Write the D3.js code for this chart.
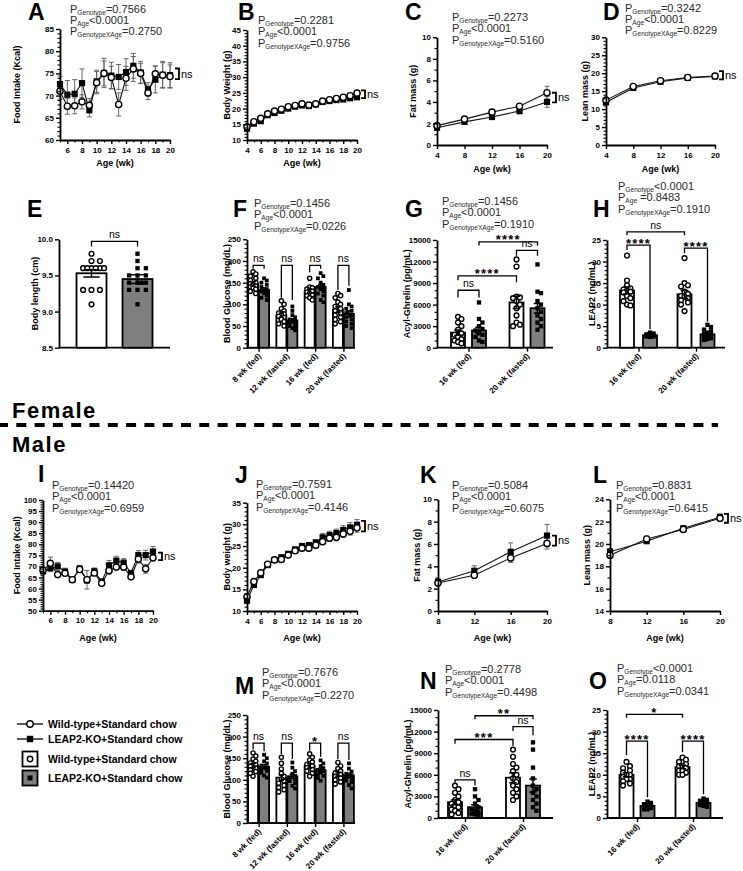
<!DOCTYPE html>
<html><head><meta charset="utf-8">
<script src="https://cdn.jsdelivr.net/npm/d3@7"></script>
<style>
body{margin:0;background:#fff;}
svg{display:block;}
</style></head><body>
<script>
// ================= DATA =================
// Female food intake (A)
const weeksFood = [5,6,7,8,9,10,11,12,13,14,15,16,17,18,19,20];
const fFoodWT    = [71.0,67.6,67.7,68.6,67.8,72.9,75.0,74.1,68.0,73.9,76.0,75.0,70.6,74.9,74.6,74.3];
const fFoodWTsem = [1.8,1.8,1.8,1.6,1.5,2.5,2.8,2.5,2.6,2.7,2.8,2.2,1.5,1.8,2.8,2.6];
const fFoodKO    = [72.6,70.2,70.4,72.8,66.7,73.2,75.1,74.5,74.2,75.3,76.7,75.2,71.4,73.6,74.7,74.6];
const fFoodKOsem = [1.8,3.2,3.2,3.2,1.5,2.5,3.3,3.0,2.8,3.0,2.8,2.5,1.5,3.0,3.0,2.8];
// Female body weight (B)
const weeksBW = [4,5,6,7,8,9,10,11,12,13,14,15,16,17,18,19,20];
const fBwWT    = [14.2,15.8,16.9,18.3,19.2,19.8,20.6,21.0,21.5,21.1,21.5,22.4,22.8,23.2,23.6,24.1,24.9];
const fBwWTsem = [0.5,0.5,0.5,0.5,0.5,0.5,0.5,0.5,0.5,0.5,0.5,0.5,0.5,0.5,0.5,0.6,0.6];
const fBwKO    = [13.6,15.2,16.0,17.9,18.6,19.3,20.0,20.6,21.0,20.8,21.3,22.1,22.4,22.7,22.9,23.3,23.6];
const fBwKOsem = [0.5,0.5,0.5,0.5,0.5,0.5,0.5,0.5,0.5,0.5,0.5,0.5,0.5,0.5,0.5,0.6,0.6];
// Female body composition (C, D)
const weeksComp = [4,8,12,16,20];
const fFatWT = [1.8,2.4,3.05,3.6,4.85],   fFatWTsem = [0.15,0.15,0.2,0.25,0.6];
const fFatKO = [1.6,2.15,2.6,3.15,4.0],   fFatKOsem = [0.15,0.15,0.15,0.25,0.5];
const fLeanWT = [12.5,16.3,17.9,18.8,19.2], fLeanWTsem = [0.4,0.3,0.3,0.3,0.3];
const fLeanKO = [11.9,15.9,17.6,18.7,19.1], fLeanKOsem = [0.4,0.3,0.3,0.3,0.3];
// Male food intake (I)
const mFoodWT    = [68.3,71.4,66.3,66.9,64.0,68.6,64.0,67.0,62.4,68.1,69.7,69.7,65.3,73.3,68.9,73.9];
const mFoodWTsem = [1.2,2.8,1.2,1.2,0.8,1.2,4.2,1.2,1.0,1.5,1.2,1.5,1.0,1.8,2.0,1.5];
const mFoodKO    = [67.8,69.2,70.0,67.7,64.0,69.0,63.8,67.8,63.2,70.5,72.6,71.7,67.0,75.1,75.1,76.7];
const mFoodKOsem = [1.2,1.5,1.8,1.5,0.8,1.5,1.5,1.5,1.0,2.2,2.0,1.8,1.2,2.0,2.2,2.3];
// Male body weight (J)
const mBwWT    = [13.3,16.8,18.8,20.8,21.8,21.9,22.9,23.9,24.5,24.5,25.2,26.0,26.8,27.0,27.8,28.4,29.2];
const mBwWTsem = [0.6,0.5,0.5,0.5,0.5,0.5,0.5,0.5,0.6,0.6,0.6,0.7,0.7,0.8,0.8,0.9,1.0];
const mBwKO    = [12.4,16.0,18.3,20.6,21.8,22.4,23.2,24.2,25.0,25.2,25.8,27.0,27.5,28.0,28.7,29.3,29.9];
const mBwKOsem = [0.7,0.5,0.5,0.5,0.5,0.5,0.5,0.6,0.6,0.6,0.7,0.9,0.9,0.9,1.0,1.1,1.2];
// Male body composition (K, L)
const weeksCompM = [8,12,16,20];
const mFatWT = [2.5,3.2,4.75,6.05], mFatWTsem = [0.2,0.25,0.4,0.5];
const mFatKO = [2.6,3.6,5.3,6.75],  mFatKOsem = [0.3,0.45,0.8,1.0];
const mLeanWT = [19.0,20.45,21.3,22.3], mLeanWTsem = [0.3,0.25,0.25,0.3];
const mLeanKO = [19.3,20.25,21.4,22.4], mLeanKOsem = [0.3,0.2,0.25,0.3];

// Body length (E)
const bodyLenGroups = ["len"];
const fLenWTmean = [9.53], fLenWTsem = [0.05];
const fLenKOmean = [9.45], fLenKOsem = [0.06];
const fLenWTpts = [[9.8,9.7,9.7,9.6,9.6,9.6,9.6,9.6,9.6,9.3,9.3,9.3,9.1]];
const fLenKOpts = [[9.8,9.7,9.6,9.6,9.5,9.5,9.5,9.4,9.4,9.4,9.4,9.3,9.3,9.3,9.1]];

// Blood glucose (F, M)
const glucoseGroups = ["8 wk (fed)","12 wk (fasted)","16 wk (fed)","20 wk (fasted)"];
const fGluWTmean = [147,75,130,88], fGluWTsem = [5,5,5,7];
const fGluKOmean = [133,63,140,78], fGluKOsem = [5,4,6,7];
const fGluWTpts = [
  [175,170,165,160,155,150,148,145,142,140,138,135,130,125],
  [108,100,90,85,80,78,75,72,70,65,60,55,50],
  [160,140,138,135,132,130,128,125,122,120,115,110],
  [125,120,115,105,100,95,90,85,80,75,70,65,60,55]];
const fGluKOpts = [
  [160,155,150,145,140,135,130,128,125,120,115,110],
  [95,85,75,70,65,62,60,58,55,50,48,45,40],
  [172,165,160,150,145,140,138,135,130,125,120,110,105],
  [133,100,95,90,85,80,75,70,65,60,55,50,45]];
const mGluWTmean = [133,105,132,113], mGluWTsem = [5,6,5,5];
const mGluKOmean = [130,108,122,110], mGluKOsem = [5,5,4,5];
const mGluWTpts = [
  [162,155,148,143,139,135,131,127,123,119,115,108],
  [152,138,125,115,108,102,97,92,87,82,77,72],
  [160,152,146,141,136,132,128,124,120,115,108],
  [140,132,126,120,116,112,108,104,100,95,90]];
const mGluKOpts = [
  [158,150,143,138,133,129,125,121,116,110,105],
  [140,128,120,114,109,105,101,97,92,86,80],
  [145,138,132,127,123,120,117,113,109,104,98],
  [138,126,119,114,110,106,102,98,94,88,80]];

// Acyl-ghrelin (G, N) and LEAP2 (H, O)
const hormoneGroups = ["16 wk (fed)","20 wk (fasted)"];
const fGhrWTmean = [2100,6300], fGhrWTsem = [350,850];
const fGhrKOmean = [2400,5500], fGhrKOsem = [450,650];
const fGhrWTpts = [[4300,4000,3500,3000,2500,2000,1800,1500,1200,1000,800,600],
                   [12300,11300,7100,7000,6900,6500,6000,5500,4500,3500,3200,3000]];
const fGhrKOpts = [[6300,4000,3500,3000,2600,2400,2000,1800,1500,1000,800],
                   [11600,7800,7600,6500,6000,5500,5000,4500,4000,3500,3000,2500]];
const fLeapWTmean = [13.3,12.4], fLeapWTsem = [0.8,0.9];
const fLeapKOmean = [2.9,3.1],   fLeapKOsem = [0.15,0.35];
const fLeapWTpts = [[21.4,15.6,14.5,13.8,13.5,13.2,13.0,12.8,12.0,11.5,10.8,10.0,9.8],
                    [20.8,15.0,14.5,14.2,13.0,12.5,12.0,11.8,11.5,11.0,10.5,10.0,8.5]];
const fLeapKOpts = [[3.5,3.3,3.1,3.0,2.9,2.8,2.7,2.6,2.5,2.6,2.9,3.0],
                    [5.3,4.8,4.2,3.8,3.5,3.2,3.0,2.8,2.5,2.2,2.0,1.8]];
const mGhrWTmean = [2200,5600], mGhrWTsem = [350,700];
const mGhrKOmean = [1500,4500], mGhrKOsem = [350,900];
const mGhrWTpts = [[4500,4000,3500,3000,2500,2200,2000,1700,1500,1200,1000,700,500],
                   [9500,8500,7500,7000,6500,6000,5500,5000,4500,4000,3500,3000,2500]];
const mGhrKOpts = [[4000,3000,2500,2000,1500,1200,1000,800,600,500,400],
                   [10500,9500,7000,5500,4500,4000,3500,3000,2500,2000,1500,1000]];
const mLeapWTmean = [10.0,11.8], mLeapWTsem = [0.45,0.4];
const mLeapKOmean = [2.8,3.5],   mLeapKOsem = [0.18,0.18];
const mLeapWTpts = [[13,12,11.5,11,10.5,10,10,9.5,9,9,8.5,8,7.5],
                    [14,13.5,13,12.5,12,12,11.5,11,11,10.5,10,10]];
const mLeapKOpts = [[3.8,3.5,3.2,3.0,2.8,2.6,2.5,2.3,2.0,2.0],
                    [4.5,4.2,4.0,3.8,3.6,3.5,3.3,3.2,3.0,2.8,2.6]];

// Statistics text
const pStats = {
  A:[["Genotype","=0.7566"],["Age","<0.0001"],["GenotypeXAge","=0.2750"]],
  B:[["Genotype","=0.2281"],["Age","<0.0001"],["GenotypeXAge","=0.9756"]],
  C:[["Genotype","=0.2273"],["Age","<0.0001"],["GenotypeXAge","=0.5160"]],
  D:[["Genotype","=0.3242"],["Age","<0.0001"],["GenotypeXAge","=0.8229"]],
  F:[["Genotype","=0.1456"],["Age","<0.0001"],["GenotypeXAge","=0.0226"]],
  G:[["Genotype","=0.1456"],["Age","<0.0001"],["GenotypeXAge","=0.1910"]],
  H:[["Genotype","<0.0001"],["Age"," =0.8483"],["GenotypeXAge","=0.1910"]],
  I:[["Genotype","=0.14420"],["Age","<0.0001"],["GenotypeXAge","=0.6959"]],
  J:[["Genotype","=0.7591"],["Age","<0.0001"],["GenotypeXAge","=0.4146"]],
  K:[["Genotype","=0.5084"],["Age","<0.0001"],["GenotypeXAge","=0.6075"]],
  L:[["Genotype","=0.8831"],["Age","<0.0001"],["GenotypeXAge","=0.6415"]],
  M:[["Genotype","=0.7676"],["Age","<0.0001"],["GenotypeXAge","=0.2270"]],
  N:[["Genotype","=0.2778"],["Age","<0.0001"],["GenotypeXAge","=0.4498"]],
  O:[["Genotype","<0.0001"],["Age","=0.0118"],["GenotypeXAge","=0.0341"]]
};
// Significance brackets: [fromGroup, fromSeries, toGroup, toSeries, level, leg1, leg2, label]
const sigE = [[0,0,0,1,9.97,9.9,9.9,"ns"]];
const sigF = [[0,0,0,1,190,182,182,"ns"],[1,0,1,1,190,115,110,"ns"],[2,0,2,1,190,174,182,"ns"],[3,0,3,1,190,133,143,"ns"]];
const sigG = [[0,0,0,1,8000,7000,7000,"ns"],[0,0,1,0,10000,9400,9100,"****"],[0,1,1,1,14750,14250,14250,"****"],[1,0,1,1,13550,12800,12800,"ns"]];
const sigH = [[0,0,1,0,26.9,26.1,26.1,"ns"],[0,0,0,1,23.8,22.7,4.3,"****"],[1,0,1,1,23.1,21.9,6.0,"****"]];
const sigM = [[0,0,0,1,185,170,166,"ns"],[1,0,1,1,185,160,148,"ns"],[2,0,2,1,185,168,153,"*"],[3,0,3,1,185,148,146,"ns"]];
const sigN = [[0,0,0,1,5300,4900,4500,"ns"],[0,0,1,0,10900,10300,10000,"***"],[0,1,1,1,14200,13700,13700,"**"],[1,0,1,1,12700,12100,11500,"ns"]];
const sigO = [[0,0,1,0,24.0,23.2,23.2,"*"],[0,0,0,1,17.8,14.5,4.8,"****"],[1,0,1,1,17.8,15.2,5.5,"****"]];
const legendLabels = ["Wild-type+Standard chow","LEAP2-KO+Standard chow","Wild-type+Standard chow","LEAP2-KO+Standard chow"];

// ================= DRAWING =================
const FONT = "'Liberation Sans', Arial, Helvetica, sans-serif";
const svg = d3.select("body").append("svg").attr("width",743).attr("height",871)
  .attr("font-family",FONT);

function styleAxis(a){
  a.attr("font-family",FONT).attr("font-size",8).attr("font-weight","bold");
  a.select(".domain").attr("stroke","#000").attr("stroke-width",1.8);
  a.selectAll(".tick line").attr("stroke","#000").attr("stroke-width",1.4);
  a.selectAll(".tick text").attr("fill","#000");
}
function yAxis(g, y, xpos, major, minor, fmt){
  if(minor && minor.length){
    const m = g.append("g").attr("transform",`translate(${xpos},0)`)
      .call(d3.axisLeft(y).tickValues(minor).tickSize(2.5).tickSizeOuter(0).tickFormat(""));
    m.select(".domain").remove();
    m.selectAll(".tick line").attr("stroke","#000").attr("stroke-width",1.1);
  }
  const a = g.append("g").attr("transform",`translate(${xpos},0)`)
    .call(d3.axisLeft(y).tickValues(major).tickSize(4).tickSizeOuter(0).tickPadding(2).tickFormat(fmt || d3.format("d")));
  styleAxis(a);
}
function xAxisNum(g, x, ypos, major, minor){
  if(minor && minor.length){
    const m = g.append("g").attr("transform",`translate(0,${ypos})`)
      .call(d3.axisBottom(x).tickValues(minor).tickSize(2.5).tickSizeOuter(0).tickFormat(""));
    m.select(".domain").remove();
    m.selectAll(".tick line").attr("stroke","#000").attr("stroke-width",1.1);
  }
  const a = g.append("g").attr("transform",`translate(0,${ypos})`)
    .call(d3.axisBottom(x).tickValues(major).tickSize(4).tickSizeOuter(0).tickPadding(3).tickFormat(d3.format("d")));
  styleAxis(a);
}
function yTitle(g, text, x, yc){
  g.append("text").attr("transform",`translate(${x},${yc}) rotate(-90)`)
    .attr("text-anchor","middle").attr("dy","0.35em").attr("font-size",9).attr("font-weight","bold").text(text);
}
function xTitle(g, text, xc, y){
  g.append("text").attr("x",xc).attr("y",y).attr("text-anchor","middle")
    .attr("font-size",9).attr("font-weight","bold").text(text);
}
function letter(t, x, y){
  svg.append("text").attr("x",x).attr("y",y).attr("font-size",23).attr("font-weight","bold").text(t);
}
function pText(key, x, y){
  pStats[key].forEach((ln,i)=>{
    const t = svg.append("text").attr("x",x).attr("y",y+i*11.4).attr("font-size",11).attr("fill","#2a2a2a");
    t.append("tspan").text("P");
    t.append("tspan").attr("font-size",6.6).attr("dy",2).text(ln[0]);
    t.append("tspan").attr("dy",-2).text(ln[1]);
  });
}
function marker(g, type, cx, cy, s){
  if(type==="wt") g.append("circle").attr("cx",cx).attr("cy",cy).attr("r",s)
      .attr("fill","#fff").attr("stroke","#000").attr("stroke-width",1.4);
  else g.append("rect").attr("x",cx-s).attr("y",cy-s).attr("width",2*s).attr("height",2*s).attr("fill","#000");
}

// ---------- line chart ----------
function lineChart(c){
  const g = svg.append("g");
  const x = d3.scaleLinear().domain(c.xDomain).range([c.left,c.right]);
  const y = d3.scaleLinear().domain(c.yDomain).range([c.bottom,c.top]);
  const series = [{v:c.ko,e:c.koSem,t:"ko"},{v:c.wt,e:c.wtSem,t:"wt"}];
  series.forEach(s=>{
    g.append("path").datum(c.weeks.map((w,i)=>[w,s.v[i]]))
      .attr("d",d3.line().x(d=>x(d[0])).y(d=>y(d[1])))
      .attr("fill","none").attr("stroke","#111").attr("stroke-width",1.1);
  });
  series.forEach(s=>{
    c.weeks.forEach((w,i)=>{
      const xx = x(w), y1 = y(s.v[i]+s.e[i]), y2 = y(s.v[i]-s.e[i]);
      g.append("path").attr("d",`M${xx},${y1}V${y2}M${xx-2.5},${y1}H${xx+2.5}M${xx-2.5},${y2}H${xx+2.5}`)
        .attr("stroke","#666").attr("stroke-width",1).attr("fill","none");
    });
  });
  series.forEach(s=>{
    c.weeks.forEach((w,i)=> marker(g, s.t, x(w), y(s.v[i]), 3.1));
  });
  yAxis(g, y, c.left, c.yMajor, c.yMinor);
  xAxisNum(g, x, c.bottom, c.xMajor, c.xMinor);
  yTitle(g, c.yTitle, c.yTitleX, (c.top+c.bottom)/2);
  xTitle(g, "Age (wk)", (c.left+c.right)/2, c.xTitleY);
  // ns bracket
  const bx = x(c.xDomain[1]) + c.bOff, yt = y(c.ns[0]), yb = y(c.ns[1]);
  g.append("path").attr("d",`M${bx-4},${yt}H${bx}V${yb}H${bx-4}`)
    .attr("fill","none").attr("stroke","#000").attr("stroke-width",1.8);
  g.append("text").attr("x",bx+2).attr("y",(yt+yb)/2).attr("dy","0.35em")
    .attr("font-size",11).text("ns");
}

// ---------- bar chart ----------
function swarm(vals, yS, cx, minD, maxHalf){
  const placed = [];
  vals.slice().sort((a,b)=>b-a).forEach(v=>{
    const py = yS(v);
    let best = null, bestScore = -1;
    for(let k=0;k<14;k++){
      const off = (k===0?0:(k%2?1:-1)*Math.ceil(k/2)*minD*0.75);
      if(Math.abs(off) > maxHalf) continue;
      let md = 1e9;
      placed.forEach(p=>{ md = Math.min(md, Math.hypot(p.x-(cx+off), p.y-py)); });
      if(md >= minD){ best = off; bestScore = 1e9; break; }
      if(md > bestScore){ bestScore = md; best = off; }
    }
    placed.push({x:cx+best, y:py, v});
  });
  return placed;
}
function barChart(c){
  const g = svg.append("g");
  const y = d3.scaleLinear().domain(c.yDomain).range([c.bottom,c.top]);
  const xc = d3.scalePoint().domain(c.groups).range(c.xRange).padding(c.pad);
  const colX = (gi,s) => xc(c.groups[gi]) + (s===0 ? -c.off : c.off);
  const sets = [{m:c.wtMean,e:c.wtSem,p:c.wtPts,t:"wt"},{m:c.koMean,e:c.koSem,p:c.koPts,t:"ko"}];
  g.append("line").attr("x1",c.left).attr("x2",c.right).attr("y1",c.bottom).attr("y2",c.bottom)
    .attr("stroke","#000").attr("stroke-width",1.8);
  if(c.catLabels){
    const a = g.append("g").attr("transform",`translate(0,${c.bottom})`)
      .call(d3.axisBottom(xc).tickSize(4).tickSizeOuter(0).tickFormat(""));
    a.select(".domain").remove();
    a.selectAll(".tick line").attr("stroke","#000").attr("stroke-width",1.4);
    c.groups.forEach(gn=>{
      g.append("text").attr("transform",`translate(${xc(gn)+3},${c.bottom+9}) rotate(-45)`)
        .attr("text-anchor","end").attr("font-size",8).attr("font-weight","bold").text(gn);
    });
  }
  sets.forEach((s,si)=>{
    c.groups.forEach((gn,gi)=>{
      g.append("rect").attr("x",colX(gi,si)-c.bw/2).attr("y",y(s.m[gi]))
        .attr("width",c.bw).attr("height",y(c.yDomain[0])-y(s.m[gi]))
        .attr("fill", s.t==="wt" ? "#fff" : "#7f7f7f").attr("stroke","#000").attr("stroke-width",1.8);
    });
  });
  sets.forEach((s,si)=>{
    c.groups.forEach((gn,gi)=>{
      swarm(s.p[gi], y, colX(gi,si), c.minD, c.bw/2 - 1).forEach(p=>{
        marker(g, s.t, p.x, p.y, s.t==="wt" ? c.ptR : c.ptR*0.9);
      });
    });
  });
  sets.forEach((s,si)=>{
    c.groups.forEach((gn,gi)=>{
      const xx = colX(gi,si), y1 = y(s.m[gi]+s.e[gi]), y2 = y(s.m[gi]-s.e[gi]), hw = c.bw*0.27;
      g.append("path").attr("d",`M${xx},${y1}V${y2}M${xx-hw},${y1}H${xx+hw}M${xx-hw},${y2}H${xx+hw}`)
        .attr("stroke","#000").attr("stroke-width",1.5).attr("fill","none");
    });
  });
  yAxis(g, y, c.left, c.yMajor, c.yMinor, c.fmt);
  yTitle(g, c.yTitle, c.yTitleX, (c.top+c.bottom)/2);
  c.sig.forEach(b=>{
    const x1 = colX(b[0],b[1]), x2 = colX(b[2],b[3]), yb = y(b[4]);
    g.append("path").attr("d",`M${x1},${y(b[5])}V${yb}H${x2}V${y(b[6])}`)
      .attr("fill","none").attr("stroke","#000").attr("stroke-width",1.3);
    const isStar = b[7].indexOf("*")>=0;
    g.append("text").attr("x",(x1+x2)/2).attr("y", isStar ? yb+2.5 : yb-3)
      .attr("text-anchor","middle")
      .attr("font-size", isStar ? 13 : 10.5).attr("font-weight", isStar ? "bold" : "normal")
      .attr("letter-spacing", isStar ? 1.2 : 0).text(b[7]);
  });
}

// ================= PANELS =================
const ints = (a,b,step,skip)=>d3.range(a,b+1e-9,step).filter(v=>skip ? Math.abs(v%skip)>1e-9 : true);

// Row 1 (Female time courses)
lineChart({left:60,right:170,top:29,bottom:140,xDomain:[5,20],yDomain:[60,85],
  yMajor:[60,65,70,75,80,85], yMinor:ints(60,85,1,5), xMajor:[6,8,10,12,14,16,18,20], xMinor:[5,7,9,11,13,15,17,19],
  weeks:weeksFood, wt:fFoodWT, wtSem:fFoodWTsem, ko:fFoodKO, koSem:fFoodKOsem,
  yTitle:"Food Intake (Kcal)", yTitleX:17, xTitleY:166, bOff:9, ns:[76.1,73.7]});
lineChart({left:247,right:357,top:30,bottom:140,xDomain:[4,20],yDomain:[10,45],
  yMajor:[10,15,20,25,30,35,40,45], yMinor:ints(10,45,1,5), xMajor:[4,6,8,10,12,14,16,18,20], xMinor:[5,7,9,11,13,15,17,19],
  weeks:weeksBW, wt:fBwWT, wtSem:fBwWTsem, ko:fBwKO, koSem:fBwKOsem,
  yTitle:"Body Weight (g)", yTitleX:227, xTitleY:166, bOff:8, ns:[25.8,23.3]});
lineChart({left:437,right:547,top:37.3,bottom:145,xDomain:[4,20],yDomain:[0,10],
  yMajor:[0,2,4,6,8,10], yMinor:[1,3,5,7,9], xMajor:[4,8,12,16,20], xMinor:[],
  weeks:weeksComp, wt:fFatWT, wtSem:fFatWTsem, ko:fFatKO, koSem:fFatKOsem,
  yTitle:"Fat mass (g)", yTitleX:413, xTitleY:172, bOff:9, ns:[4.85,3.95]});
lineChart({left:606,right:715,top:37.3,bottom:145,xDomain:[4,20],yDomain:[0,30],
  yMajor:[0,5,10,15,20,25,30], yMinor:ints(0,30,1,5), xMajor:[4,8,12,16,20], xMinor:[],
  weeks:weeksComp, wt:fLeanWT, wtSem:fLeanWTsem, ko:fLeanKO, koSem:fLeanKOsem,
  yTitle:"Lean mass (g)", yTitleX:585, xTitleY:172, bOff:8, ns:[20.6,18.3]});

// Row 2 (Female bar charts)
barChart({left:59,right:170,top:239.3,bottom:347.7,yDomain:[8.5,10],yMajor:[8.5,9.0,9.5,10.0],yMinor:[],fmt:d3.format(".1f"),
  groups:bodyLenGroups, xRange:[91.5,137.5], pad:0, off:23, bw:30, minD:5.6, ptR:2.4, catLabels:false,
  wtMean:fLenWTmean, wtSem:fLenWTsem, koMean:fLenKOmean, koSem:fLenKOsem, wtPts:fLenWTpts, koPts:fLenKOpts,
  yTitle:"Body length (cm)", yTitleX:35, sig:sigE});
barChart({left:247,right:355,top:239.3,bottom:347.7,yDomain:[0,250],yMajor:[0,50,100,150,200,250],yMinor:ints(0,250,10,50),
  groups:glucoseGroups, xRange:[247,355], pad:0.41, off:5.5, bw:10, minD:3.6, ptR:2.1, catLabels:true,
  wtMean:fGluWTmean, wtSem:fGluWTsem, koMean:fGluKOmean, koSem:fGluKOsem, wtPts:fGluWTpts, koPts:fGluKOpts,
  yTitle:"Blood Glucose (mg/dL)", yTitleX:227, sig:sigF});
barChart({left:437,right:553,top:240,bottom:347.7,yDomain:[0,15000],yMajor:[0,3000,6000,9000,12000,15000],yMinor:ints(0,15000,1000,3000),
  groups:hormoneGroups, xRange:[439.25,556.25], pad:0.5, off:10.5, bw:14, minD:4.6, ptR:2.4, catLabels:true,
  wtMean:fGhrWTmean, wtSem:fGhrWTsem, koMean:fGhrKOmean, koSem:fGhrKOsem, wtPts:fGhrWTpts, koPts:fGhrKOpts,
  yTitle:"Acyl-Ghrelin (pg/mL)", yTitleX:407, sig:sigG});
barChart({left:607,right:725,top:240,bottom:347.7,yDomain:[0,25],yMajor:[0,5,10,15,20,25],yMinor:ints(0,25,1,5),
  groups:hormoneGroups, xRange:[609.75,724.75], pad:0.5, off:11.5, bw:14, minD:4.6, ptR:2.4, catLabels:true,
  wtMean:fLeapWTmean, wtSem:fLeapWTsem, koMean:fLeapKOmean, koSem:fLeapKOsem, wtPts:fLeapWTpts, koPts:fLeapKOpts,
  yTitle:"LEAP2 (ng/mL)", yTitleX:592, sig:sigH});

// Row 3 (Male time courses)
lineChart({left:43,right:153,top:500,bottom:610.7,xDomain:[5,20],yDomain:[50,100],
  yMajor:[50,55,60,65,70,75,80,85,90,95,100], yMinor:ints(50,100,1,5), xMajor:[6,8,10,12,14,16,18,20], xMinor:[5,7,9,11,13,15,17,19],
  weeks:weeksFood, wt:mFoodWT, wtSem:mFoodWTsem, ko:mFoodKO, koSem:mFoodKOsem,
  yTitle:"Food Intake (Kcal)", yTitleX:17, xTitleY:641, bOff:9, ns:[76.2,72.8]});
lineChart({left:247,right:357,top:502.7,bottom:611,xDomain:[4,20],yDomain:[10,35],
  yMajor:[10,15,20,25,30,35], yMinor:ints(10,35,1,5), xMajor:[4,6,8,10,12,14,16,18,20], xMinor:[5,7,9,11,13,15,17,19],
  weeks:weeksBW, wt:mBwWT, wtSem:mBwWTsem, ko:mBwKO, koSem:mBwKOsem,
  yTitle:"Body weight (g)", yTitleX:227, xTitleY:641, bOff:8, ns:[30.8,28.4]});
lineChart({left:438,right:547,top:499.3,bottom:611,xDomain:[8,20],yDomain:[0,10],
  yMajor:[0,2,4,6,8,10], yMinor:[1,3,5,7,9], xMajor:[8,12,16,20], xMinor:[],
  weeks:weeksCompM, wt:mFatWT, wtSem:mFatWTsem, ko:mFatKO, koSem:mFatKOsem,
  yTitle:"Fat mass (g)", yTitleX:417, xTitleY:641, bOff:9, ns:[6.75,5.85]});
lineChart({left:610,right:720,top:499.3,bottom:611,xDomain:[8,20],yDomain:[14,24],
  yMajor:[14,16,18,20,22,24], yMinor:[15,17,19,21,23], xMajor:[8,12,16,20], xMinor:[],
  weeks:weeksCompM, wt:mLeanWT, wtSem:mLeanWTsem, ko:mLeanKO, koSem:mLeanKOsem,
  yTitle:"Lean mass (g)", yTitleX:587, xTitleY:641, bOff:8, ns:[22.7,21.9]});

// Row 4 (Male bar charts)
barChart({left:247,right:355,top:715,bottom:823,yDomain:[0,250],yMajor:[0,50,100,150,200,250],yMinor:ints(0,250,10,50),
  groups:glucoseGroups, xRange:[247,355], pad:0.41, off:5.5, bw:10, minD:3.6, ptR:2.1, catLabels:true,
  wtMean:mGluWTmean, wtSem:mGluWTsem, koMean:mGluKOmean, koSem:mGluKOsem, wtPts:mGluWTpts, koPts:mGluKOpts,
  yTitle:"Blood Glucose (mg/dL)", yTitleX:227, sig:sigM});
barChart({left:438,right:553,top:710,bottom:818,yDomain:[0,15000],yMajor:[0,3000,6000,9000,12000,15000],yMinor:ints(0,15000,1000,3000),
  groups:hormoneGroups, xRange:[436,552], pad:0.5, off:10, bw:14, minD:4.6, ptR:2.4, catLabels:true,
  wtMean:mGhrWTmean, wtSem:mGhrWTsem, koMean:mGhrKOmean, koSem:mGhrKOsem, wtPts:mGhrWTpts, koPts:mGhrKOpts,
  yTitle:"Acyl-Ghrelin (pg/mL)", yTitleX:408, sig:sigN});
barChart({left:607,right:723,top:710,bottom:818,yDomain:[0,25],yMajor:[0,5,10,15,20,25],yMinor:ints(0,25,1,5),
  groups:hormoneGroups, xRange:[609,721], pad:0.5, off:10.5, bw:14, minD:4.6, ptR:2.4, catLabels:true,
  wtMean:mLeapWTmean, wtSem:mLeapWTsem, koMean:mLeapKOmean, koSem:mLeapKOsem, wtPts:mLeapWTpts, koPts:mLeapKOpts,
  yTitle:"LEAP2 (ng/mL)", yTitleX:592, sig:sigO});

// Panel letters and statistics
[["A",28,20],["B",238,20],["C",405,20],["D",603,20],["E",27,217],["F",233,217],["G",405,217],["H",593,217],
 ["I",38,482],["J",235,483],["K",420,483],["L",593,483],["M",235,694],["N",420,689],["O",589,689]]
 .forEach(d=>letter(d[0],d[1],d[2]));
[["A",70,12.5],["B",258,24],["C",452,21],["D",625,11.5],["F",254,207],["G",442,205],["H",618,190],
 ["I",52,489],["J",256,488],["K",452,489],["L",616,489],["M",262,676],["N",445,673],["O",617,672]]
 .forEach(d=>pText(d[0],d[1],d[2]));

// Female / Male separator
svg.append("text").attr("x",12).attr("y",418).attr("font-size",22).attr("font-weight","bold")
  .attr("letter-spacing",1.5).text("Female");
svg.append("line").attr("x1",0).attr("x2",718).attr("y1",425).attr("y2",425)
  .attr("stroke","#000").attr("stroke-width",4).attr("stroke-dasharray","10 8.3").attr("stroke-dashoffset",2);
svg.append("text").attr("x",12).attr("y",452).attr("font-size",22).attr("font-weight","bold")
  .attr("letter-spacing",1.5).text("Male");

// Legend
const lg = svg.append("g");
const legendRows = [724,739,759,778];
legendLabels.forEach((lab,i)=>{
  const yy = legendRows[i], type = (i%2===0) ? "wt" : "ko";
  if(i<2){
    lg.append("line").attr("x1",17).attr("x2",43).attr("y1",yy).attr("y2",yy).attr("stroke","#000").attr("stroke-width",1.3);
    marker(lg, type, 30, yy, 3.2);
  } else {
    lg.append("rect").attr("x",22.5).attr("y",yy-7.5).attr("width",15).attr("height",15)
      .attr("fill", type==="wt" ? "#fff" : "#7f7f7f").attr("stroke","#000").attr("stroke-width",1.8);
    marker(lg, type, 30, yy, type==="wt" ? 2.7 : 2.5);
  }
  lg.append("text").attr("x",48).attr("y",yy).attr("dy","0.35em").attr("font-size",10.5)
    .attr("font-weight","bold").text(lab);
});
</script>
</body></html>
